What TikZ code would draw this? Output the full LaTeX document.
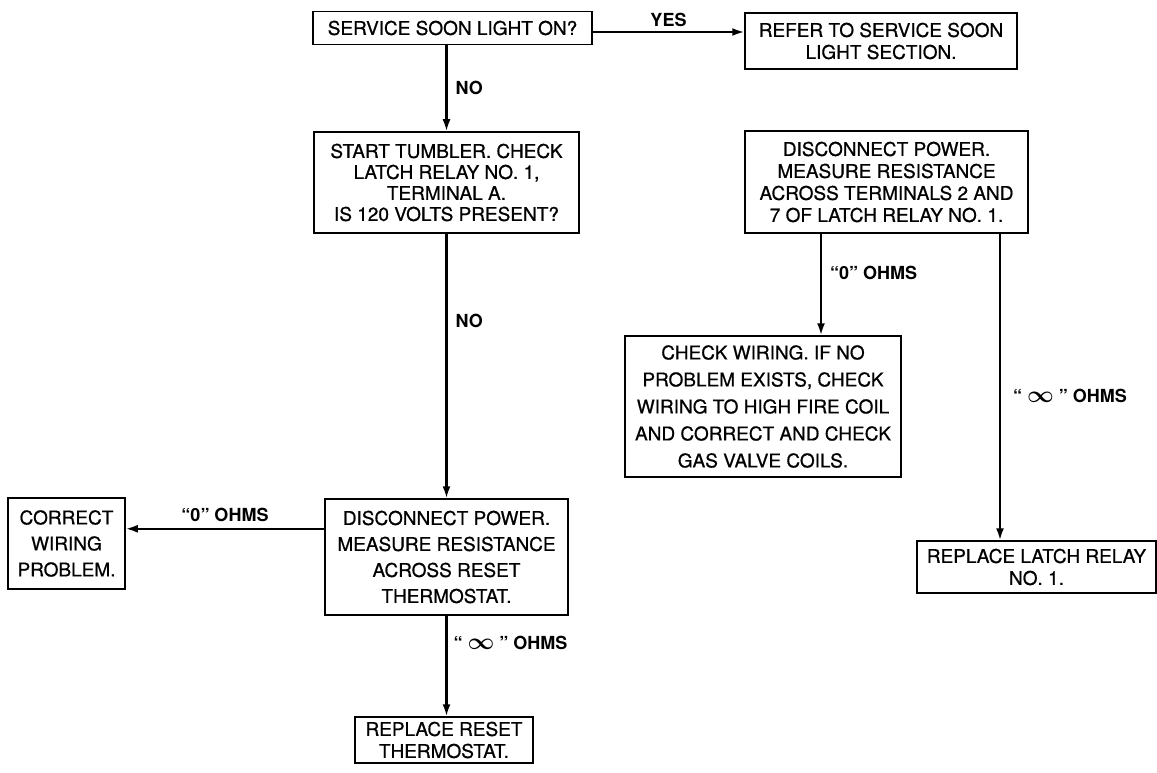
\documentclass[tikz,border=0pt]{standalone}
\usepackage{fontspec}
\setmainfont{TeX Gyre Heros}[UprightFeatures={FakeBold=0.7}]
\usetikzlibrary{arrows.meta, calc}

\tikzset{
  caja/.style={draw=black, line width=1.5pt, align=center, inner sep=0pt,
    font=\fontsize{19}{22}\selectfont},
  flecha/.style={line width=2.2pt, -{Latex[length=12pt, width=8pt]}},
  etiq/.style={font=\bfseries\fontsize{18}{20}\selectfont, inner sep=2pt}
}
\newcommand{\infBold}{\scalebox{1.35}{\boldmath$\infty$}}

\begin{document}
\begin{tikzpicture}[x=1pt, y=-1pt]
  \useasboundingbox (0,0) rectangle (1157,773);

  % CAJAS
  % Columna izquierda
  \node[caja, minimum width=279pt, minimum height=33pt] (luz) at (452.5,28)
    {SERVICE SOON LIGHT ON?};
  \node[caja, minimum width=265pt, minimum height=101pt,
    font=\fontsize{19}{21}\selectfont] (tumbler) at (446.5,182.5)
    {START TUMBLER. CHECK\\LATCH RELAY NO. 1,\\TERMINAL A.\\IS 120 VOLTS PRESENT?};
  \node[caja, minimum width=243pt, minimum height=116pt,
    font=\fontsize{19}{26}\selectfont] (desc1) at (446.5,557)
    {DISCONNECT POWER.\\MEASURE RESISTANCE\\ACROSS RESET\\THERMOSTAT.};
  \node[caja, minimum width=117pt, minimum height=91pt,
    font=\fontsize{19}{26}\selectfont] (corr) at (66.5,543.5)
    {CORRECT\\WIRING\\PROBLEM.};
  \node[caja, minimum width=178pt, minimum height=46pt] (reset) at (444,740)
    {REPLACE RESET\\THERMOSTAT.};

  % Columna derecha
  \node[caja, minimum width=272pt, minimum height=56pt] (ref) at (881,41)
    {REFER TO SERVICE SOON\\LIGHT SECTION.};
  \node[caja, minimum width=283pt, minimum height=102pt] (desc2) at (886.5,182)
    {DISCONNECT POWER.\\MEASURE RESISTANCE\\ACROSS TERMINALS 2 AND\\7 OF LATCH RELAY NO. 1.};
  \node[caja, minimum width=276pt, minimum height=141pt,
    font=\fontsize{19}{27}\selectfont] (cable) at (763,406.5)
    {CHECK WIRING. IF NO\\PROBLEM EXISTS, CHECK\\WIRING TO HIGH FIRE COIL\\AND CORRECT AND CHECK\\GAS VALVE COILS.};
  \node[caja, minimum width=239pt, minimum height=52pt] (latch) at (1036.5,567)
    {REPLACE LATCH RELAY\\NO. 1.};

  % FLECHAS
  \draw[flecha] ([yshift=-4pt]luz.east) -- ([yshift=-4pt]luz.east -| ref.west)
    node[etiq, midway, above, yshift=2pt] (lblSi) {YES};
  \draw[flecha] (tumbler.north |- luz.south) -- (tumbler.north)
    node[etiq, midway, right, xshift=6pt] (lblNo1) {NO};
  \draw[flecha] (tumbler.south) -- (desc1.north)
    node[etiq, pos=0.33, right, xshift=6pt] (lblNo2) {NO};
  \draw[flecha] (desc1.167) -- (desc1.167 -| corr.east)
    node[etiq, midway, above, yshift=4pt] (lblCero1) {``0'' OHMS};
  \draw[flecha] (desc1.south) -- (desc1.south |- reset.north)
    node[etiq, pos=0.27, right, xshift=4pt] (lblInf1) {`` \infBold\ '' OHMS};
  \draw[flecha] ([xshift=58pt]cable.north |- desc2.south) -- ([xshift=58pt]cable.north)
    node[etiq, pos=0.39, right, xshift=6pt] (lblCero2) {``0'' OHMS};
  \draw[flecha] ([xshift=-36.5pt]latch.north |- desc2.south) -- ([xshift=-36.5pt]latch.north)
    node[etiq, pos=0.53, right, xshift=10pt] (lblInf2) {`` \infBold\ '' OHMS};
\end{tikzpicture}
\end{document}
